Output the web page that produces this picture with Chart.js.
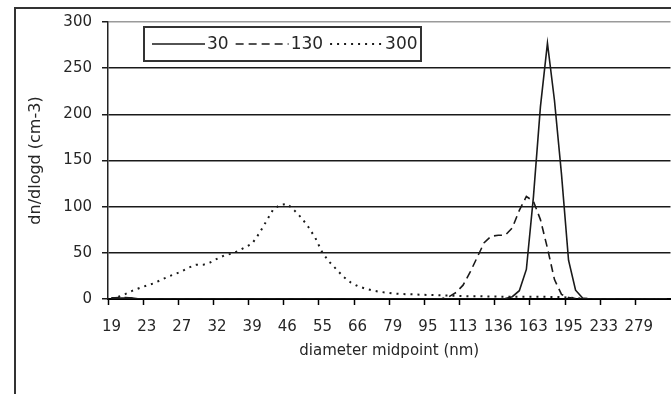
<!DOCTYPE html>
<html>
<head>
<meta charset="utf-8">
<script src="https://cdn.jsdelivr.net/npm/chart.js@4.4.0/dist/chart.umd.min.js"></script>
<style>
  html, body { margin: 0; padding: 0; overflow: hidden; background: #fff; }
  canvas { display: block; }
</style>
</head>
<body>
<canvas id="sizeChart" width="680" height="394"></canvas>
<script>
// diameter midpoints (nm), 64 channels per decade
const diameters = [
  18.8, 19.5, 20.2, 20.9, 21.7, 22.5, 23.3, 24.1, 25.0, 25.9,
  26.9, 27.9, 28.9, 30.0, 31.1, 32.2, 33.4, 34.6, 35.9, 37.2,
  38.5, 39.9, 41.4, 42.9, 44.5, 46.1, 47.8, 49.6, 51.4, 53.3,
  55.2, 57.2, 59.3, 61.5, 63.8, 66.1, 68.5, 71.0, 73.6, 76.3,
  79.1, 82.0, 85.0, 88.1, 91.4, 94.7, 98.2, 101.8, 105.5, 109.4,
  113.4, 117.5, 121.8, 126.3, 130.9, 135.7, 140.7, 145.8, 151.2, 156.7,
  162.6, 168.4, 174.5, 180.9, 187.6, 194.6, 201.6, 208.9, 216.6, 224.5,
  232.7, 241.3, 250.1, 259.3, 268.8, 278.6, 288.8, 299.4, 310.4, 321.7
];

const series30 = [
  1, 1, 1, 1, 0, 0, 0, 0, 0, 0,
  0, 0, 0, 0, 0, 0, 0, 0, 0, 0,
  0, 0, 0, 0, 0, 0, 0, 0, 0, 0,
  0, 0, 0, 0, 0, 0, 0, 0, 0, 0,
  0, 0, 0, 0, 0, 0, 0, 0, 0, 0,
  0, 0, 0, 0, 0, 0, 0.5, 2.5, 9, 32,
  110, 208, 277, 215, 135, 42, 9.5, 1, 0, 0,
  0, 0, 0, 0, 0, 0, 0, 0, 0, 0
];

const series130 = [
  1, 1.5, 1.5, 1, 0, 0, 0, 0, 0, 0,
  0, 0, 0, 0, 0, 0, 0, 0, 0, 0,
  0, 0, 0, 0, 0, 0, 0, 0, 0, 0,
  0, 0, 0, 0, 0, 0, 0, 0, 0, 0,
  0, 0, 0, 0, 0, 0, 0, 0.5, 2.5, 7,
  15, 29, 45, 61, 68, 69, 69, 77, 96, 111,
  106, 86, 55, 21, 5, 1.5, 0.5, 0, 0, 0,
  0, 0, 0, 0, 0, 0, 0, 0, 0, 0
];

const series300 = [
  0.5, 2.5, 5.5, 9, 12, 14.5, 17, 20.5, 24, 27,
  30, 34, 37, 37, 39.5, 43.5, 47, 49, 52, 56,
  60, 71, 84, 97, 102, 103, 96, 88, 78, 66,
  50, 40, 32, 24, 18, 14, 11.5, 9.5, 8, 7,
  6, 5.5, 5.2, 5, 4.6, 4.4, 4.2, 4, 3.7, 3.4,
  3.2, 3, 3, 2.8, 2.7, 2.6, 2.5, 2.5, 2.5, 2.5,
  2.5, 2.5, 2.3, 2.2, 2, 1.5, 1, 0.5, 0, 0,
  0, 0, 0, 0, 0, 0, 0, 0, 0, 0
];

const seriesNames = ['30', '130', '300'];
const yTicks = [0, 50, 100, 150, 200, 250, 300];

const FONT = 'DejaVu Sans';
const INK = '#262626';

// white page + outer chart frame
const frame = {
  id: 'frame',
  beforeDraw(chart) {
    const c = chart.ctx;
    c.save();
    c.fillStyle = '#fff';
    c.fillRect(0, 0, chart.width, chart.height);
    c.strokeStyle = '#333';
    c.lineWidth = 2;
    c.strokeRect(15, 8, chart.width + 20, chart.height + 20);
    c.restore();
  }
};

// boxed legend inside the plot, Excel style
const boxLegend = {
  id: 'boxLegend',
  afterDraw(chart) {
    const c = chart.ctx;
    const area = chart.chartArea;
    const left = area.left + 36, top = area.top + 5, w = 277, h = 34;
    c.save();
    c.fillStyle = '#fff';
    c.fillRect(left, top, w, h);
    c.strokeStyle = '#333';
    c.lineWidth = 2;
    c.strokeRect(left, top, w, h);
    c.font = '17px "' + FONT + '"';
    c.textBaseline = 'middle';
    let x = left + 8;
    const y = top + h / 2;
    chart.data.datasets.forEach(ds => {
      c.strokeStyle = ds.borderColor;
      c.lineWidth = ds.borderWidth;
      c.setLineDash(ds.borderDash || []);
      c.beginPath();
      c.moveTo(x, y);
      c.lineTo(x + 53, y);
      c.stroke();
      c.setLineDash([]);
      c.fillStyle = INK;
      c.fillText(ds.label, x + 55, y + 1);
      x += 55 + c.measureText(ds.label).width + 7;
    });
    c.restore();
  }
};

const config = {
  type: 'line',
  data: {
    labels: diameters,
    datasets: [
      { label: seriesNames[0], data: series30, borderColor: '#1a1a1a', borderWidth: 1.6, borderDash: [] },
      { label: seriesNames[1], data: series130, borderColor: '#1a1a1a', borderWidth: 1.6, borderDash: [8, 5] },
      { label: seriesNames[2], data: series300, borderColor: '#1a1a1a', borderWidth: 2, borderDash: [2, 5] }
    ]
  },
  options: {
    responsive: false,
    animation: false,
    layout: { padding: { left: 0, top: 22, right: 4, bottom: 0 } },
    elements: {
      point: { radius: 0 },
      line: { tension: 0, fill: false }
    },
    plugins: {
      legend: { display: false },
      tooltip: { enabled: false }
    },
    scales: {
      x: {
        type: 'category',
        offset: true,
        grid: {
          offset: true,
          drawOnChartArea: false,
          drawTicks: true,
          tickLength: 6,
          tickWidth: 1.5,
          tickColor: ctx => (ctx.index % 5 === 0 ? '#000' : 'rgba(0,0,0,0)')
        },
        border: { color: '#000', width: 2 },
        ticks: {
          autoSkip: false,
          maxRotation: 0,
          padding: 13,
          color: INK,
          font: { family: FONT, size: 15 },
          callback: function (val, i) {
            return i % 5 === 0 ? String(Math.round(this.getLabelForValue(val))) : '';
          }
        },
        title: {
          display: true,
          text: 'diameter midpoint (nm)',
          color: INK,
          font: { family: FONT, size: 15 },
          padding: { top: 0, bottom: 34 }
        },
        afterFit: s => { s.height = 95; }
      },
      y: {
        min: 0,
        max: 300,
        afterBuildTicks: s => { s.ticks = yTicks.map(v => ({ value: v })); },
        grid: {
          color: ctx => (ctx.tick && ctx.tick.value === 300 ? '#9a9a9a' : '#1a1a1a'),
          lineWidth: 1.5,
          tickLength: 6,
          tickColor: '#1a1a1a'
        },
        border: { color: '#222', width: 1.5 },
        ticks: {
          padding: 10,
          color: INK,
          font: { family: FONT, size: 15 }
        },
        title: {
          display: true,
          text: 'dn/dlogd (cm-3)',
          color: INK,
          font: { family: FONT, size: 16 },
          padding: { top: 26, bottom: 0 }
        },
        afterFit: s => { s.width = 108; }
      }
    }
  },
  plugins: [frame, boxLegend]
};

const sizeChart = new Chart(document.getElementById('sizeChart'), config);
</script>
</body>
</html>
